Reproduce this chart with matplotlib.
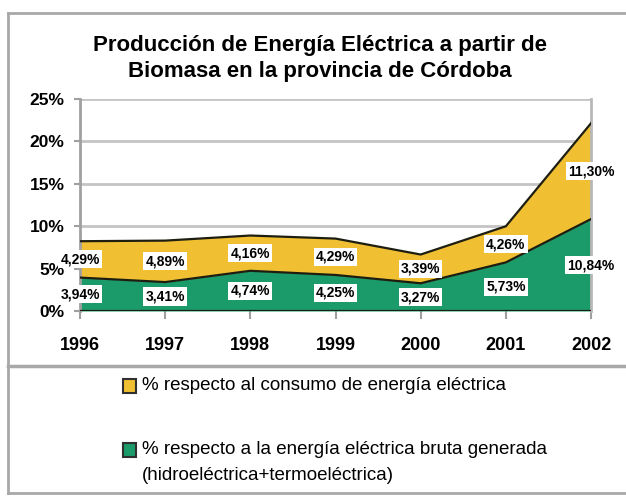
import matplotlib
matplotlib.use("Agg")
import matplotlib.pyplot as plt
from matplotlib.lines import Line2D
from matplotlib.patches import Rectangle

plt.rcParams['font.family'] = ['Liberation Sans', 'DejaVu Sans']

years = [1996, 1997, 1998, 1999, 2000, 2001, 2002]
bruta = [3.94, 3.41, 4.74, 4.25, 3.27, 5.73, 10.84]      # % respecto a energía bruta generada
consumo = [4.29, 4.89, 4.16, 4.29, 3.39, 4.26, 11.30]    # % respecto al consumo
bruta_lbl = ['3,94%', '3,41%', '4,74%', '4,25%', '3,27%', '5,73%', '10,84%']
consumo_lbl = ['4,29%', '4,89%', '4,16%', '4,29%', '3,39%', '4,26%', '11,30%']
yticks = [0, 5, 10, 15, 20, 25]

yellow = '#F0C032'
green = '#1B9A6A'
edge = '#1e1e10'
grid_c = '#c4c4c4'

fig = plt.figure(figsize=(6.26, 4.96), dpi=100)
ax = fig.add_axes([80/626, 185/496, 511/626, 212/496])

top = [b + c for b, c in zip(bruta, consumo)]
ax.fill_between(years, bruta, top, color=yellow, linewidth=0, zorder=2)
ax.fill_between(years, 0, bruta, color=green, linewidth=0, zorder=2)
ax.plot(years, top, color=edge, lw=1.6, zorder=3)
ax.plot(years, bruta, color=edge, lw=1.6, zorder=3)
ax.plot(years, [0]*len(years), color=edge, lw=1.6, zorder=3)

for y in yticks[1:]:
    ax.axhline(y, color=grid_c, lw=2, zorder=1)

ax.set_xlim(1996, 2002)
ax.set_ylim(0, 25)
ax.set_yticks(yticks)
ax.set_yticklabels([f'{t}%' for t in yticks], fontsize=12.5, fontweight='bold')
ax.set_xticks(years)
ax.set_xticklabels([str(y) for y in years], fontsize=13, fontweight='bold')
ax.tick_params(axis='x', length=6, width=1.5, color='#a0a0a0', pad=13)
ax.tick_params(axis='y', length=4, width=1.5, color='#a0a0a0', pad=7)
for s in ['top', 'bottom']:
    ax.spines[s].set_visible(False)
ax.spines['left'].set_color('#a0a0a0')
ax.spines['left'].set_linewidth(2)
ax.spines['right'].set_color('#b8b8b8')
ax.spines['right'].set_linewidth(2)

box = dict(boxstyle='square,pad=0.15', fc='white', ec='none')
for x, b, c, bl, cl in zip(years, bruta, consumo, bruta_lbl, consumo_lbl):
    ax.text(x, b / 2, bl, ha='center', va='center', fontsize=10,
            fontweight='bold', bbox=box, zorder=5, clip_on=False)
    ax.text(x, b + c / 2, cl, ha='center', va='center', fontsize=10,
            fontweight='bold', bbox=box, zorder=5, clip_on=False)

fig.text(0.511, 1 - 45/496, 'Producción de Energía Eléctrica a partir de',
         ha='center', va='center', fontsize=16, fontweight='bold')
fig.text(0.511, 1 - 72/496, 'Biomasa en la provincia de Córdoba',
         ha='center', va='center', fontsize=16, fontweight='bold')

# border and separator
border = '#a8a8a8'
fig.add_artist(Line2D([8/626, 1], [1 - 13/496] * 2, color=border, lw=2))
fig.add_artist(Line2D([8/626] * 2, [1 - 13/496, 1 - 493/496], color=border, lw=2))
fig.add_artist(Line2D([8/626, 1], [1 - 493/496] * 2, color=border, lw=2))
fig.add_artist(Line2D([8/626, 1], [1 - 366/496] * 2, color=border, lw=2.5))

# legend
for yc, col in [(386, yellow), (450, green)]:
    fig.add_artist(Rectangle((123/626, 1 - (yc + 7)/496), 13/626, 14/496,
                             fc=col, ec='#303030', lw=1.5))
fig.text(142/626, 1 - 386/496, '% respecto al consumo de energía eléctrica',
         ha='left', va='center', fontsize=13.5)
fig.text(142/626, 1 - 450/496, '% respecto a la energía eléctrica bruta generada',
         ha='left', va='center', fontsize=13.5)
fig.text(142/626, 1 - 475/496, '(hidroeléctrica+termoeléctrica)',
         ha='left', va='center', fontsize=13.5)

fig.savefig('out.png', dpi=100)
